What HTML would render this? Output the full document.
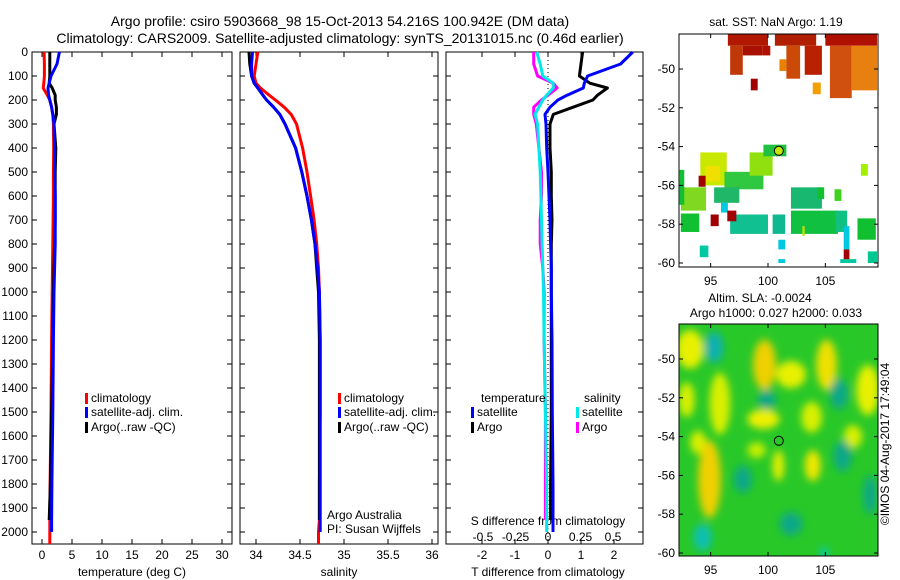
<!DOCTYPE html>
<html><head><meta charset="utf-8"><style>
html,body{margin:0;padding:0;background:#fff;width:900px;height:580px;overflow:hidden}
svg{font-family:"Liberation Sans",sans-serif;}
</style></head><body>
<svg id="c" width="900" height="580" xmlns="http://www.w3.org/2000/svg">
<defs>
<filter id="blur" x="-50%" y="-50%" width="200%" height="200%"><feGaussianBlur stdDeviation="4"/></filter>
<clipPath id="clipTop"><rect x="679" y="34" width="199" height="233"/></clipPath>
<clipPath id="clipBot"><rect x="679" y="324" width="199" height="232"/></clipPath>
</defs>
<text x="340" y="26" font-size="14" text-anchor="middle">Argo profile: csiro 5903668_98 15-Oct-2013 54.216S 100.942E (DM data)</text>
<text x="340" y="43" font-size="14" text-anchor="middle">Climatology: CARS2009. Satellite-adjusted climatology: synTS_20131015.nc (0.46d earlier)</text>
</svg>
<script>
// ---------- data ----------
const depths = [0,50,100,130,150,180,200,230,260,300,400,500,600,700,800,900,1000,1200,1500,1800,1950,2000,2050];
const tempClim = [0.35,0.4,0.4,0.3,0.2,0.9,1.3,1.6,1.8,1.9,1.95,1.9,1.9,1.85,1.8,1.75,1.7,1.6,1.5,1.35,1.3,1.3,1.3];
const tempSat  = [2.9,2.5,1.5,1.2,1.0,1.1,1.3,1.6,1.8,2.0,2.1,2.1,2.2,2.2,2.2,2.1,2.0,1.9,1.8,1.65,1.6,1.6,null];
const tempArgo = [1.3,1.3,1.3,1.2,1.7,2.2,2.2,2.4,2.4,2.0,2.3,2.2,2.2,2.2,2.1,2.0,1.9,1.8,1.6,1.4,1.2,null,null];
const salClim = [34.02,34.0,33.98,34.0,34.05,34.15,34.22,34.32,34.4,34.46,34.53,34.58,34.62,34.66,34.69,34.71,34.72,34.73,34.73,34.72,34.72,34.71,34.71];
const salSat  = [33.96,33.95,33.95,33.98,34.02,34.08,34.12,34.2,34.27,34.33,34.45,34.52,34.58,34.63,34.67,34.7,34.72,34.73,34.73,34.73,34.73,34.73,null];
const salArgo = [33.92,33.93,33.95,33.98,34.02,34.08,34.12,34.2,34.27,34.33,34.45,34.52,34.58,34.63,34.67,34.69,34.71,34.72,34.72,34.72,34.72,null,null];
const tDiffSat  = [2.57,2.2,1.2,1.1,1.07,0.58,0.3,0.06,-0.09,-0.06,-0.04,0.0,0.03,0.06,0.08,0.1,0.1,0.12,0.13,0.15,0.15,0.15,null];
const tDiffArgo = [1.05,1.0,0.95,1.27,1.8,1.5,1.36,0.76,0.16,0.06,0.06,0.1,0.1,0.12,0.1,0.1,0.1,0.1,0.1,0.08,0.08,null,null];
const sDiffSat  = [-0.087,-0.06,-0.04,0.04,0.04,-0.01,-0.04,-0.07,-0.1,-0.08,-0.07,-0.06,-0.055,-0.05,-0.045,-0.04,-0.035,-0.03,-0.02,-0.01,-0.01,-0.01,null];
const sDiffArgo = [-0.11,-0.11,-0.08,0.04,0.07,0.0,-0.05,-0.11,-0.11,-0.09,-0.07,-0.05,-0.05,-0.06,-0.06,-0.04,-0.03,-0.03,-0.02,-0.02,-0.02,null,null];
const depthTicks = [0,100,200,300,400,500,600,700,800,900,1000,1100,1200,1300,1400,1500,1600,1700,1800,1900,2000];
const tempTicks = [0,5,10,15,20,25,30];
const salTicks = [34,34.5,35,35.5,36];
const tDiffTicks = [-2,-1,0,1,2];
const sDiffTicks = [-0.5,-0.25,0,0.25,0.5];
const lonTicks = [95,100,105];
const latTicks = [-50,-52,-54,-56,-58,-60];
// SST patches: lon0, lon1, lat0, lat1, colour
const sstCells = [
 [96.5,100.0,-48.2,-48.8,'#b01800'],[100.6,104.2,-48.2,-48.8,'#b02000'],[105.0,109.5,-48.2,-48.8,'#b01000'],
 [96.7,97.8,-48.8,-50.3,'#c03808'],[97.8,99.5,-48.8,-49.3,'#a81000'],
 [98.5,99.1,-50.5,-51.1,'#a00000'],[101.0,101.6,-49.5,-50.1,'#e88000'],[101.6,102.8,-48.8,-50.5,'#cc4a08'],
 [103.2,104.7,-48.8,-50.3,'#b82000'],[103.9,104.6,-50.7,-51.3,'#f0a000'],[105.4,107.3,-48.8,-51.5,'#d05010'],
 [107.3,109.5,-48.8,-51.1,'#e88010'],[99.5,100.2,-48.8,-49.3,'#b01000'],
 [94.1,96.4,-54.3,-56.0,'#c8e800'],[94.5,95.8,-55.0,-55.8,'#f0e000'],[96.2,99.6,-55.3,-56.2,'#30c840'],
 [95.3,97.5,-56.1,-56.9,'#20b868'],[92.4,94.6,-56.1,-57.3,'#80d820'],[92.4,94.0,-57.45,-58.4,'#10c030'],
 [96.7,100.0,-57.5,-58.5,'#10c090'],[98.4,100.4,-54.3,-55.5,'#90e010'],[99.6,101.6,-53.9,-54.5,'#20c040'],
 [102.0,104.7,-56.1,-57.2,'#18b870'],[102.0,106.1,-57.3,-58.5,'#10c040'],[100.4,101.5,-57.5,-58.5,'#10b890'],
 [105.9,106.9,-57.3,-58.4,'#10c080'],[107.8,109.4,-57.7,-58.8,'#10c030'],[92.3,92.7,-55.2,-57.0,'#10c030'],
 [94.05,94.8,-59.1,-59.7,'#00c8a0'],[100.9,101.5,-58.8,-59.3,'#00c8e0'],[100.9,101.5,-59.8,-60.0,'#00c8e0'],
 [106.6,107.1,-58.1,-59.3,'#00c8e0'],[108.7,109.5,-59.4,-60.0,'#00c890'],[106.3,107.7,-59.8,-60.0,'#00c8a0'],
 [95.9,96.5,-56.9,-57.4,'#00c8e0'],[108.1,108.7,-54.9,-55.5,'#a0f000'],[104.3,104.9,-56.1,-56.7,'#10c030'],
 [105.8,106.4,-56.2,-56.8,'#40d020'],[103.0,103.2,-58.1,-58.6,'#c0e000'],
 [93.95,94.56,-55.5,-56.07,'#a00000'],[95.0,95.7,-57.5,-58.1,'#a00000'],[96.45,97.24,-57.3,-57.85,'#a00000'],[106.6,107.1,-59.3,-59.8,'#a00000']
];
// SLA blobs: lon, lat, rxDeg, ryDeg, colour
const slaBlobs = [
 [93.2,-49.5,1.2,1.0,'#e8f000'],[99.7,-50.3,1.0,1.3,'#f0d000'],[102.0,-50.8,1.3,0.7,'#e8f000'],[105.1,-50.3,0.9,1.3,'#f0e000'],
 [108.7,-51.6,1.0,1.3,'#e8f000'],[92.9,-52.1,0.7,0.9,'#d8f000'],[95.8,-52.3,0.9,1.6,'#d8f000'],[99.6,-53.1,1.4,0.5,'#f0f000'],
 [103.8,-53.0,0.9,0.8,'#d8f000'],[107.4,-54.0,0.8,0.6,'#d8f000'],[93.9,-54.3,0.7,0.6,'#d8f000'],[94.9,-56.2,1.0,2.0,'#f0d000'],
 [100.9,-55.5,0.5,0.8,'#e8f000'],[103.9,-55.5,0.7,0.8,'#f0e800'],[99.0,-54.7,0.8,0.4,'#c8f000'],
 [95.3,-49.4,0.8,0.8,'#10b0b0'],[94.3,-59.2,0.8,0.7,'#10c0b0'],[97.8,-56.2,0.8,0.7,'#10a888'],[106.2,-51.8,0.8,0.8,'#10a888'],
 [99.9,-52.1,0.8,0.5,'#10a888'],[106.5,-55.0,0.8,0.8,'#10a888'],[108.9,-57.0,0.6,1.0,'#10a888'],[102.0,-58.5,1.0,0.6,'#10a888'],[104.9,-60.0,0.3,0.3,'#00c8e0']
];

// ---------- scales ----------
const Y0=52, YS=0.24;
const yD = d => Y0 + d*YS;
const xT = v => 42 + 6*v;
const xS = v => 256 + 88*(v-34);
const xTD = v => 548 + 33*v;
const xSD = v => 548 + 130*v;
const lonX = l => 679 + (l-92.24)*11.47;
const latY = l => 69 + (-50-l)*19.4;
const latYb = l => 359 + (-50-l)*19.4;

const NS='http://www.w3.org/2000/svg';
const svg=document.getElementById('c');
function mk(tag, attrs, parent){const e=document.createElementNS(NS,tag);for(const k in attrs)e.setAttribute(k,attrs[k]);(parent||svg).appendChild(e);return e;}

const panels=[{x0:32,x1:232,name:'temperature'},{x0:240,x1:438,name:'salinity'},{x0:446,x1:643,name:'difference'}];
const YB=544;
panels.forEach(p=>{
  const r=mk('rect',{x:p.x0,y:Y0,width:p.x1-p.x0,height:YB-Y0,fill:'none',stroke:'#000','stroke-width':1});
  
  
  depthTicks.forEach(d=>{
    mk('line',{x1:p.x0,x2:p.x0+5,y1:yD(d),y2:yD(d),stroke:'#000'});
    mk('line',{x1:p.x1,x2:p.x1-5,y1:yD(d),y2:yD(d),stroke:'#000'});
  });
});
depthTicks.forEach(d=>{
  const t=mk('text',{x:28,y:yD(d)+4,'font-size':12,'text-anchor':'end'});
  t.textContent=d;
  
  
});
function xticks(ticks, fx, fmt, y){
  ticks.forEach(v=>{
    const x=fx(v);
    mk('line',{x1:x,x2:x,y1:YB,y2:YB-5,stroke:'#000'});
    mk('line',{x1:x,x2:x,y1:Y0,y2:Y0+5,stroke:'#000'});
    const t=mk('text',{x:x,y:y,'font-size':12,'text-anchor':'middle'});
    t.textContent=fmt(v);
    
    
  });
}
xticks(tempTicks,xT,v=>v,559);
xticks(salTicks,xS,v=>v,559);
xticks(tDiffTicks,xTD,v=>v,559);
sDiffTicks.forEach(v=>{
  const t=mk('text',{x:xSD(v),y:541,'font-size':12,'text-anchor':'middle'});
  t.textContent=v;
  
  
});
function label(txt,x,y,name,anchor,size){
  const t=mk('text',{x:x,y:y,'font-size':size||12,'text-anchor':anchor||'middle'});
  t.textContent=txt;
  
  
  return t;
}
label('temperature (deg C)',132,576,'x-axis-title-temperature');
label('salinity',339,576,'x-axis-title-salinity');
label('T difference from climatology',548,576,'x-axis-title-t-difference');
label('S difference from climatology',548,525,'s-difference-title');
label('Argo Australia',327,519,'credit-line-1','start');
label('PI: Susan Wijffels',327,533,'credit-line-2','start');

mk('line',{x1:xTD(0),x2:xTD(0),y1:Y0,y2:YB,stroke:'#000','stroke-dasharray':'1,3'});

function series(vals, fx, color, name, w){
  let pts=[];
  vals.forEach((v,i)=>{ if(v!==null) pts.push(fx(v).toFixed(1)+','+yD(depths[i]).toFixed(1)); });
  const pl=mk('polyline',{points:pts.join(' '),fill:'none',stroke:color,'stroke-width':w||3,'stroke-linejoin':'round'});
  
  
}
series(tempClim,xT,'#ff0000','temp-climatology-line');
series(tempArgo,xT,'#000','temp-argo-line');
series(tempSat,xT,'#0000ff','temp-satellite-line');
series(salClim,xS,'#ff0000','sal-climatology-line');
series(salArgo,xS,'#000','sal-argo-line');
series(salSat,xS,'#0000ff','sal-satellite-line');
series(tDiffArgo,xTD,'#000','tdiff-argo-line');
series(tDiffSat,xTD,'#0000ff','tdiff-satellite-line');
series(sDiffArgo,xSD,'#ff00ff','sdiff-argo-line');
series(sDiffSat,xSD,'#00e8e8','sdiff-satellite-line');

function legEntry(x,y,color,txt,name){
  mk('rect',{x:x,y:y-9,width:3,height:11,fill:color});
  label(txt,x+6,y,name,'start');
}
[[85,'temp'],[338,'sal']].forEach(([lx,n])=>{
  legEntry(lx,402,'#ff0000','climatology',n+'-legend-climatology');
  legEntry(lx,416,'#0000ff','satellite-adj. clim.',n+'-legend-satellite');
  legEntry(lx,431,'#000','Argo(..raw -QC)',n+'-legend-argo');
});
label('temperature',481,402,'diff-legend-temperature-header','start');
label('salinity',584,402,'diff-legend-salinity-header','start');
legEntry(471,416,'#0000ff','satellite','diff-legend-t-satellite');
legEntry(471,431,'#000','Argo','diff-legend-t-argo');
legEntry(576,416,'#00e8e8','satellite','diff-legend-s-satellite');
legEntry(576,431,'#ff00ff','Argo','diff-legend-s-argo');

// ---------- maps ----------
label('sat. SST: NaN Argo: 1.19',776,26,'sst-map-title');
label('Altim. SLA: -0.0024',760,302,'sla-map-title-1');
label('Argo h1000: 0.027 h2000: 0.033',776,317,'sla-map-title-2');
const gTop=mk('g',{'clip-path':'url(#clipTop)'});


sstCells.forEach(c=>{
  const r=mk('rect',{x:lonX(c[0]),y:latY(c[2]),width:lonX(c[1])-lonX(c[0]),height:latY(c[3])-latY(c[2]),fill:c[4]},gTop);
  
  
});
const gBot=mk('g',{'clip-path':'url(#clipBot)'});


mk('rect',{x:679,y:324,width:199,height:232,fill:'#28c828'},gBot);
const gBl=mk('g',{filter:'url(#blur)'},gBot);
slaBlobs.forEach(b=>{
  const e=mk('ellipse',{cx:lonX(b[0]),cy:latYb(b[1]),rx:b[2]*11.47,ry:b[3]*19.4,fill:b[4]},gBl);
  
  
});
function mapAxes(y0,y1,fy,name){
  const r=mk('rect',{x:679,y:y0,width:199,height:y1-y0,fill:'none',stroke:'#000'});
  
  
  latTicks.forEach(l=>{
    const y=fy(l);
    mk('line',{x1:679,x2:683,y1:y,y2:y,stroke:'#000'});
    mk('line',{x1:878,x2:874,y1:y,y2:y,stroke:'#000'});
    label(l,675,y+4,name+'-lat-label','end');
  });
  lonTicks.forEach(l=>{
    const x=lonX(l);
    mk('line',{x1:x,x2:x,y1:y1,y2:y1-4,stroke:'#000'});
    mk('line',{x1:x,x2:x,y1:y0,y2:y0+4,stroke:'#000'});
    label(l,x,y1+18,name+'-lon-label');
  });
}
mapAxes(34,267,latY,'sst-map');
mapAxes(324,556,latYb,'sla-map');
const c1=mk('circle',{cx:lonX(100.942),cy:latY(-54.216),r:4.5,fill:'#c0e800',stroke:'#000'});


const c2=mk('circle',{cx:lonX(100.942),cy:latYb(-54.216),r:4.5,fill:'none',stroke:'#000'});


const cr=mk('text',{x:0,y:0,'font-size':12,'text-anchor':'middle',transform:'translate(889,444) rotate(-90)'});
cr.textContent='©IMOS 04-Aug-2017 17:49:04';


</script>
</body></html>
